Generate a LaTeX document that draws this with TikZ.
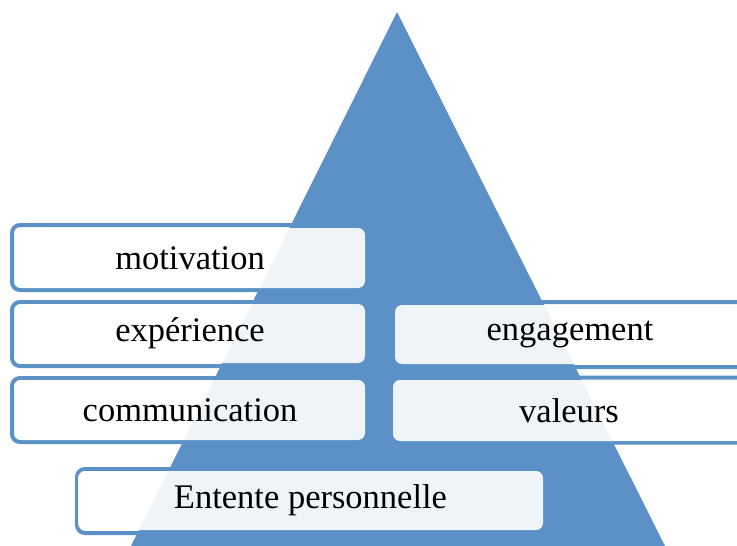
\documentclass[tikz,border=0pt]{standalone}
\usepackage{fontspec}
\setmainfont{Liberation Serif}
\definecolor{pyrblue}{RGB}{92,145,199}
\tikzset{
  outbox/.style={draw=pyrblue,line width=4pt,fill=white,rounded corners=8pt,inner sep=0pt},
  txtbox/.style={fill=white,fill opacity=0.9,text opacity=1,rounded corners=7pt,inner sep=0pt,
    font=\fontsize{34.5}{38}\selectfont}
}
\begin{document}
\begin{tikzpicture}[x=1pt,y=-1pt]
        \useasboundingbox (0,0) rectangle (737,546);
        % outlines behind the pyramid
        \node[outbox,minimum width=355pt,minimum height=65pt](motivation-o)at(189.5,257.5){};
        \node[outbox,minimum width=355pt,minimum height=64pt](experience-o)at(189.5,334){};
        \node[outbox,minimum width=355pt,minimum height=64pt](communication-o)at(189.5,410){};
        \node[outbox,minimum width=359pt,minimum height=65pt](engagement-o)at(570.5,334.5){};
        \node[outbox,minimum width=359pt,minimum height=65pt](valeurs-o)at(570.5,410){};
        \node[outbox,minimum width=468pt,minimum height=64pt](entente-o)at(311,501){};
        % pyramid
        \fill[pyrblue](397,12)--(131,546)--(665,546)--cycle;
        % text boxes
        \node[txtbox,minimum width=350pt,minimum height=60pt](motivation)at(190,258){motivation};
        \node[txtbox,minimum width=350pt,minimum height=59pt](experience)at(190,333.5){expérience};
        \node[txtbox,minimum width=350pt,minimum height=60pt](communication)at(190,410){communication};
        \node[txtbox,minimum width=350pt,minimum height=59pt](engagement)at(570,334.5){engagement};
        \node[txtbox,minimum width=352pt,minimum height=61pt](valeurs)at(569,410.5){valeurs};
        \node[txtbox,minimum width=465pt,minimum height=59pt](entente)at(310.5,500.5){Entente personnelle};
    \end{tikzpicture}
\end{document}
